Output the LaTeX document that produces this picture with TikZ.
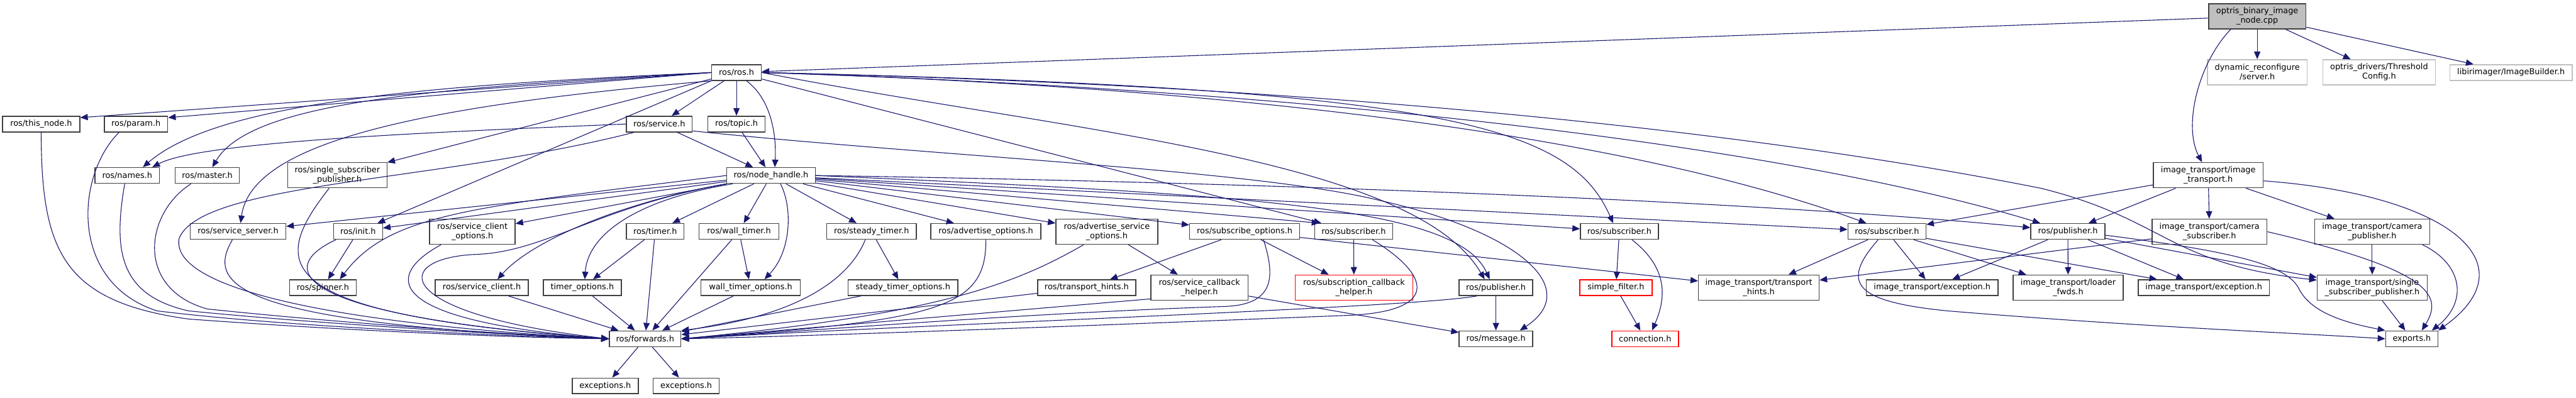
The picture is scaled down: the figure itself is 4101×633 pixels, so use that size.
\documentclass[tikz,border=0pt]{standalone}
\usepackage{fontspec}
\setmainfont{DejaVu Sans}
\usetikzlibrary{arrows.meta}
\definecolor{edgeblue}{HTML}{191970}
\definecolor{boxline}{HTML}{404040}
\definecolor{rootgray}{HTML}{BFBFBF}
\definecolor{extline}{HTML}{BFBFBF}
\begin{document}
\begin{tikzpicture}[
    x=1pt, y=-1pt,
    hdr/.style={draw=boxline, line width=1.5pt, fill=white, rectangle, minimum height=25pt, inner sep=0pt, align=center, font=\fontsize{12.9}{15}\selectfont},
    two/.style={minimum height=40pt},
    mainfile/.style={hdr, fill=rootgray},
    ext/.style={hdr, draw=extline},
    trunc/.style={hdr, draw=red},
    inc/.style={-{Triangle[length=12pt,width=10pt]}, draw=edgeblue, line width=1.1pt}
]
    \useasboundingbox (0,0) rectangle (4101,633);

    \node[mainfile, two, minimum width=155pt] (optris) at (3593.5,26) {optris\_binary\_image\\\_node.cpp};
    \node[ext, two, minimum width=159pt] (dynrec) at (3593.5,115) {dynamic\_reconfigure\\/server.h};
    \node[ext, two, minimum width=179pt] (thresh) at (3787.5,115) {optris\_drivers/Threshold\\Config.h};
    \node[ext, minimum width=195pt] (imgbld) at (3997.5,115.5) {libirimager/ImageBuilder.h};
    \node[hdr, minimum width=79pt] (ros) at (1172.5,115.5) {ros/ros.h};

    \node[hdr, minimum width=123pt] (thisnode) at (65.5,197.5) {ros/this\_node.h};
    \node[hdr, minimum width=101pt] (param) at (216.5,197.5) {ros/param.h};
    \node[hdr, minimum width=105pt] (service) at (1049.5,197.5) {ros/service.h};
    \node[hdr, minimum width=91pt] (topic) at (1172.5,197.5) {ros/topic.h};

    \node[hdr, minimum width=103pt] (names) at (202.5,279.5) {ros/names.h};
    \node[hdr, minimum width=102pt] (master) at (330,279.5) {ros/master.h};
    \node[hdr, two, minimum width=158pt] (ssp) at (537,279) {ros/single\_subscriber\\\_publisher.h};
    \node[hdr, minimum width=141pt] (nh) at (1227.5,279.5) {ros/node\_handle.h};
    \node[hdr, two, minimum width=175pt] (ittrans) at (3515.5,279) {image\_transport/image\\\_transport.h};

    \node[hdr, minimum width=152pt] (srvserver) at (379,368.5) {ros/service\_server.h};
    \node[hdr, minimum width=78pt] (init) at (570,368.5) {ros/init.h};
    \node[hdr, two, minimum width=136pt] (sco) at (752,369) {ros/service\_client\\\_options.h};
    \node[hdr, minimum width=92pt] (timer) at (1043,368.5) {ros/timer.h};
    \node[hdr, minimum width=127pt] (walltimer) at (1176.5,368.5) {ros/wall\_timer.h};
    \node[hdr, minimum width=143pt] (steadytimer) at (1387.5,368.5) {ros/steady\_timer.h};
    \node[hdr, minimum width=175pt] (advopt) at (1569.5,368.5) {ros/advertise\_options.h};
    \node[hdr, two, minimum width=162pt] (advsrvopt) at (1762,369) {ros/advertise\_service\\\_options.h};
    \node[hdr, minimum width=175pt] (subopt) at (1981.5,368.5) {ros/subscribe\_options.h};
    \node[hdr, minimum width=124pt] (rossub) at (2155,368.5) {ros/subscriber.h};
    \node[hdr, minimum width=124pt] (mfsub) at (2578,368.5) {ros/subscriber.h};
    \node[hdr, minimum width=124pt] (itsub) at (3004,368.5) {ros/subscriber.h};
    \node[hdr, minimum width=118pt] (itpub) at (3292,368.5) {ros/publisher.h};
    \node[hdr, two, minimum width=183pt] (itcamsub) at (3517.5,369) {image\_transport/camera\\\_subscriber.h};
    \node[hdr, two, minimum width=183pt] (itcampub) at (3776.5,369) {image\_transport/camera\\\_publisher.h};

    \node[hdr, minimum width=106pt] (spinner) at (514,458) {ros/spinner.h};
    \node[hdr, minimum width=148pt] (sclient) at (767,458) {ros/service\_client.h};
    \node[hdr, minimum width=124pt] (timeropt) at (927,458) {timer\_options.h};
    \node[hdr, minimum width=158pt] (walltimeropt) at (1195,458) {wall\_timer\_options.h};
    \node[hdr, minimum width=175pt] (steadytimeropt) at (1437.5,458) {steady\_timer\_options.h};
    \node[hdr, minimum width=156pt] (transhints) at (1730,458) {ros/transport\_hints.h};
    \node[hdr, two, minimum width=155pt] (srvcbh) at (1909.5,458) {ros/service\_callback\\\_helper.h};
    \node[trunc, two, minimum width=187pt] (subcbh) at (2155.5,458) {ros/subscription\_callback\\\_helper.h};
    \node[hdr, minimum width=117pt] (rospub) at (2381.5,458) {ros/publisher.h};
    \node[trunc, minimum width=115pt] (simplefilter) at (2572.5,458) {simple\_filter.h};
    \node[hdr, two, minimum width=192pt] (ittranshints) at (2800,458) {image\_transport/transport\\\_hints.h};
    \node[hdr, minimum width=210pt] (itexcA) at (3076,458) {image\_transport/exception.h};
    \node[hdr, two, minimum width=175pt] (itloader) at (3292.5,458) {image\_transport/loader\\\_fwds.h};
    \node[hdr, minimum width=209pt] (itexcB) at (3508.5,458) {image\_transport/exception.h};
    \node[hdr, two, minimum width=175pt] (itssp) at (3776.5,458) {image\_transport/single\\\_subscriber\_publisher.h};

    \node[hdr, minimum width=114pt] (fwd) at (1027,539.5) {ros/forwards.h};
    \node[hdr, minimum width=117pt] (message) at (2381.5,539.5) {ros/message.h};
    \node[trunc, minimum width=106pt] (connection) at (2619,539.5) {connection.h};
    \node[hdr, minimum width=83pt] (exports) at (3839.5,539.5) {exports.h};
    \node[hdr, minimum width=105pt] (excA) at (963.5,614.5) {exceptions.h};
    \node[hdr, minimum width=105pt] (excB) at (1092.5,614.5) {exceptions.h};

    \draw[inc] (optris) -- (ros);
    \draw[inc] (optris) -- (dynrec);
    \draw[inc] (optris) -- (thresh);
    \draw[inc] (optris) -- (imgbld);
    \draw[inc] ([xshift=36pt]optris.south west) .. controls (3500,100) and (3475,200) .. ([xshift=-10pt]ittrans.north);

    \draw[inc] (ros.west) -- ([yshift=-3pt]thisnode.north east);
    \draw[inc] (ros.west) -- ([yshift=-3pt]param.north east);
    \draw[inc] (ros.west) .. controls (700,135) and (350,160) .. ([xshift=25pt]names.north);
    \draw[inc] (ros.west) .. controls (700,140) and (400,160) .. ([xshift=8pt]master.north);
    \draw[inc] (ros) -- (ssp);
    \draw[inc] (ros.south west) .. controls (650,170) and (400,230) .. ([xshift=4pt]srvserver.north);
    \draw[inc] (ros.south west) -- (init);
    \draw[inc] (ros) -- (service);
    \draw[inc] (ros) -- (topic);
    \draw[inc] ([xshift=16pt]ros.south) .. controls (1230,160) and (1236,220) .. ([xshift=6pt]nh.north);
    \draw[inc] (ros) -- (rossub);
    \draw[inc] (ros.east) .. controls (1700,210) and (2250,250) .. ([xshift=-18pt]rospub.north);
    \draw[inc] (ros.east) .. controls (2300,140) and (2500,200) .. ([xshift=-10pt]mfsub.north);
    \draw[inc] (ros.east) .. controls (2000,140) and (2600,220) .. ([xshift=-33pt]itsub.north);
    \draw[inc] (ros.east) .. controls (2000,140) and (2800,220) .. ([xshift=-44pt]itpub.north);
    \draw[inc] (ros.east) .. controls (2300,140) and (2950,240) .. (3250,300) .. controls (3450,350) and (3450,420) .. ([yshift=12pt]itssp.west);

    \draw[inc] (service.west) .. controls (700,210) and (320,225) .. ([xshift=40pt]names.north);
    \draw[inc] (service) -- (nh);
    \draw[inc] ([xshift=-40pt]service.south) .. controls (700,290) and (320,290) .. (285,380) .. controls (270,470) and (600,520) .. (fwd.west);
    \draw[inc] ([yshift=-11pt]service.east) .. controls (1500,250) and (2000,270) .. (2200,320) .. controls (2420,370) and (2520,460) .. ([xshift=38pt]message.north);
    \draw[inc] (topic) -- (nh);

    \draw[inc] (nh) -- (srvserver);
    \draw[inc] (nh) -- (init);
    \draw[inc] (nh.west) .. controls (750,330) and (620,340) .. ([xshift=27pt]spinner.north);
    \draw[inc] (nh) -- (sco);
    \draw[inc] (nh.south west) .. controls (1000,320) and (850,380) .. ([xshift=25pt]sclient.north);
    \draw[inc] ([xshift=10pt]nh.south west) .. controls (1000,320) and (935,380) .. ([xshift=4pt]timeropt.north);
    \draw[inc] (nh) -- (timer);
    \draw[inc] (nh) -- (walltimer);
    \draw[inc] ([xshift=15pt]nh.south) .. controls (1262,330) and (1260,400) .. ([xshift=22pt]walltimeropt.north);
    \draw[inc] (nh) -- (steadytimer);
    \draw[inc] (nh) -- (advopt);
    \draw[inc] (nh) -- (advsrvopt);
    \draw[inc] (nh) -- (subopt);
    \draw[inc] (nh) -- ([xshift=8pt]rossub.north west);
    \draw[inc] (nh.east) .. controls (2000,310) and (2320,330) .. ([xshift=-10pt]rospub.north);
    \draw[inc] (nh) -- (mfsub);
    \draw[inc] (nh) -- (itsub);
    \draw[inc] (nh.east) .. controls (2000,290) and (2800,320) .. ([yshift=6pt]itpub.west);
    \draw[inc] (nh.south west) .. controls (950,330) and (870,400) .. (760,405) .. controls (620,410) and (620,500) .. (fwd.west);

    \draw[inc] (thisnode.south) .. controls (66,400) and (100,480) .. (300,508) .. controls (600,530) and (850,538) .. (fwd.west);
    \draw[inc] ([xshift=-27pt]param.south) .. controls (120,280) and (110,450) .. (250,495) .. controls (450,520) and (800,535) .. (fwd.west);
    \draw[inc] ([xshift=-4pt]names.south) .. controls (180,400) and (190,470) .. (300,495) .. controls (500,515) and (800,533) .. (fwd.west);
    \draw[inc] ([xshift=-26pt]master.south) .. controls (230,340) and (215,460) .. (330,492) .. controls (550,515) and (800,532) .. (fwd.west);
    \draw[inc] ([xshift=-9pt]srvserver.south) .. controls (330,450) and (360,515) .. (fwd.west);
    \draw[inc] ([xshift=-13pt]ssp.south) .. controls (430,420) and (420,500) .. (fwd.west);
    \draw[inc] ([xshift=-35pt]init.south) .. controls (450,420) and (430,500) .. (fwd.west);
    \draw[inc] (init) -- (spinner);
    \draw[inc] ([xshift=-50pt]sco.south) .. controls (610,440) and (610,510) .. (fwd.west);
    \draw[inc] (sclient) -- (fwd);
    \draw[inc] (timer) -- (timeropt);
    \draw[inc] (timer) -- (fwd);
    \draw[inc] (timeropt) -- (fwd);
    \draw[inc] (walltimer) -- (walltimeropt);
    \draw[inc] (walltimer) -- (fwd);
    \draw[inc] (walltimeropt) -- (fwd);
    \draw[inc] (steadytimer) -- (steadytimeropt);
    \draw[inc] ([xshift=-10pt]steadytimer.south) .. controls (1350,450) and (1260,505) .. (fwd.north east);
    \draw[inc] (steadytimeropt) -- (fwd);
    \draw[inc] (advopt.south) .. controls (1570,490) and (1500,510) .. (fwd.east);
    \draw[inc] ([xshift=-37pt]advsrvopt.south) .. controls (1620,450) and (1500,500) .. (fwd.east);
    \draw[inc] (advsrvopt) -- (srvcbh);
    \draw[inc] (subopt) -- (transhints);
    \draw[inc] (subopt) -- (subcbh);
    \draw[inc] ([xshift=30pt]subopt.south) .. controls (2030,440) and (2030,485) .. (1950,488) .. controls (1600,500) and (1250,530) .. (fwd.east);
    \draw[inc] (subopt) -- (ittranshints);
    \draw[inc] (transhints) -- (fwd);
    \draw[inc] ([yshift=-18pt]srvcbh.west) -- (fwd.east);
    \draw[inc] (srvcbh) -- (message);
    \draw[inc] (rossub) -- (subcbh);
    \draw[inc] ([xshift=30pt]rossub.south) .. controls (2280,440) and (2290,495) .. (2150,502) .. controls (1700,520) and (1300,535) .. (fwd.east);
    \draw[inc] ([xshift=-30pt]rospub.south) .. controls (2250,490) and (1500,515) .. (fwd.east);
    \draw[inc] (rospub) -- (message);
    \draw[inc] (mfsub) -- (simplefilter);
    \draw[inc] ([xshift=20pt]mfsub.south) .. controls (2660,430) and (2650,480) .. ([xshift=11pt]connection.north);
    \draw[inc] (simplefilter) -- (connection);
    \draw[inc] (fwd) -- (excA);
    \draw[inc] (fwd) -- (excB);

    \draw[inc] (ittrans) -- (itsub);
    \draw[inc] (ittrans) -- (itpub);
    \draw[inc] (ittrans) -- (itcamsub);
    \draw[inc] (ittrans) -- (itcampub);
    \draw[inc] ([yshift=-9pt]ittrans.east) .. controls (3900,310) and (4030,420) .. (exports.north east);
    \draw[inc] (itsub) -- (ittranshints);
    \draw[inc] (itsub) -- (itexcA);
    \draw[inc] (itsub) -- (itloader);
    \draw[inc] (itsub) -- (itexcB);
    \draw[inc] ([xshift=-14pt]itsub.south) .. controls (2930,450) and (2950,480) .. (3100,495) .. controls (3400,520) and (3650,530) .. (exports.west);
    \draw[inc] (itpub) -- (itexcA);
    \draw[inc] (itpub) -- (itloader);
    \draw[inc] (itpub) -- (itssp);
    \draw[inc] (itpub) -- (itexcB);
    \draw[inc] ([yshift=-6pt]itpub.east) .. controls (3550,400) and (3640,420) .. (3660,460) .. controls (3680,500) and (3740,515) .. (exports.north west);
    \draw[inc] (itcamsub) -- (ittranshints);
    \draw[inc] (itcamsub.east) .. controls (3870,430) and (3890,470) .. ([xshift=16pt]exports.north);
    \draw[inc] (itcampub) -- (itssp);
    \draw[inc] ([xshift=80pt]itcampub.south) .. controls (3920,420) and (3930,480) .. ([xshift=32pt]exports.north);
    \draw[inc] (itssp) -- (exports);
\end{tikzpicture}
\end{document}
